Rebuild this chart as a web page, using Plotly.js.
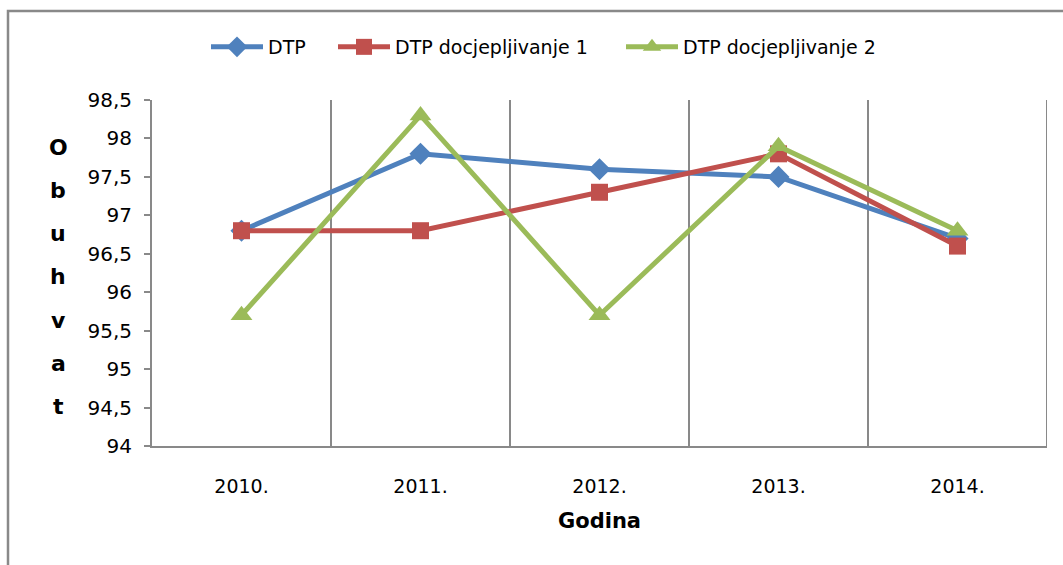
<!DOCTYPE html>
<html><head><meta charset="utf-8">
<script src="https://cdn.plot.ly/plotly-3.0.1.min.js"></script>
<style>html,body{margin:0;padding:0;background:#fff}#chart{width:1063px;height:565px}</style>
</head><body><div id="chart"></div>
<script>
const years = ["2010.", "2011.", "2012.", "2013.", "2014."];
const dtp = [96.8, 97.8, 97.6, 97.5, 96.7];
const dtpDoc1 = [96.8, 96.8, 97.3, 97.8, 96.6];
const dtpDoc2 = [95.7, 98.3, 95.7, 97.9, 96.8];
const seriesNames = ["DTP", "DTP docjepljivanje 1", "DTP docjepljivanje 2"];
const yTitle = "Obuhvat";
const xTitle = "Godina";
const yTicks = [94, 94.5, 95, 95.5, 96, 96.5, 97, 97.5, 98, 98.5];

const idx = years.map((_, i) => i);
const font = "DejaVu Sans, Open Sans, sans-serif";
const gray = "#898989";

const traces = [
  {x: idx, y: dtp, name: seriesNames[0], mode: "lines+markers", legend: "legend",
   line: {color: "#4F81BD", width: 5}, marker: {symbol: "diamond", size: 17, color: "#4F81BD"}},
  {x: idx, y: dtpDoc1, name: seriesNames[1], mode: "lines+markers", legend: "legend2",
   line: {color: "#C0504D", width: 5}, marker: {symbol: "square", size: 17, color: "#C0504D"}},
  {x: idx, y: dtpDoc2, name: seriesNames[2], mode: "lines+markers", legend: "legend3",
   line: {color: "#9BBB59", width: 5}, marker: {symbol: "triangle-up", size: 19, color: "#9BBB59"}}
];

const shapes = [];
for (let i = 0; i < years.length; i++) {
  shapes.push({type: "line", xref: "x", yref: "paper", x0: i + 0.5, x1: i + 0.5, y0: 0, y1: 1,
    line: {color: gray, width: 2}, layer: "below"});
}
shapes.push({type: "rect", xref: "paper", yref: "paper",
  x0: (8 - 152) / 895, x1: (1075 - 152) / 895, y0: (446 - 580) / 346, y1: (446 - 11) / 346,
  line: {color: gray, width: 2.5}, layer: "below"});

const letters = yTitle.split("");
const annotations = letters.map((ch, i) => ({
  text: "<b>" + ch + "</b>", xref: "paper", yref: "paper",
  x: (58 - 152) / 895, y: (446 - (147 + i * 43.3)) / 346,
  showarrow: false, font: {family: font, size: 22, color: "#000"}, xanchor: "center", yanchor: "middle"
}));

function leg(px) {
  return {orientation: "h", x: (px - 152) / 895, xanchor: "left", y: (446 - 47) / 346, yanchor: "middle",
    bgcolor: "rgba(0,0,0,0)", font: {family: font, size: 19, color: "#000"}, itemwidth: 52};
}

const layout = {
  width: 1063, height: 565,
  margin: {l: 152, r: 16, t: 100, b: 119},
  paper_bgcolor: "#fff", plot_bgcolor: "#fff",
  separators: ",.",
  showlegend: true,
  legend: leg(206),
  legend2: leg(333),
  legend3: leg(621),
  xaxis: {range: [-0.5, 4.5], tickvals: idx, ticktext: years, showgrid: false, zeroline: false,
    showline: true, linecolor: gray, linewidth: 2, ticks: "", ticklabelstandoff: 22,
    tickfont: {family: font, size: 19, color: "#000"},
    title: {text: "<b>" + xTitle + "</b>", font: {family: font, size: 21, color: "#000"}, standoff: 18}},
  yaxis: {range: [94, 98.5], tickvals: yTicks, showgrid: false, zeroline: false,
    showline: true, linecolor: gray, linewidth: 2, ticks: "outside", ticklen: 6, tickcolor: gray, tickwidth: 2,
    ticklabelstandoff: 8,
    tickfont: {family: font, size: 20, color: "#000"}},
  shapes: shapes,
  annotations: annotations
};

Plotly.newPlot("chart", traces, layout, {displayModeBar: false, staticPlot: true});
</script></body></html>
